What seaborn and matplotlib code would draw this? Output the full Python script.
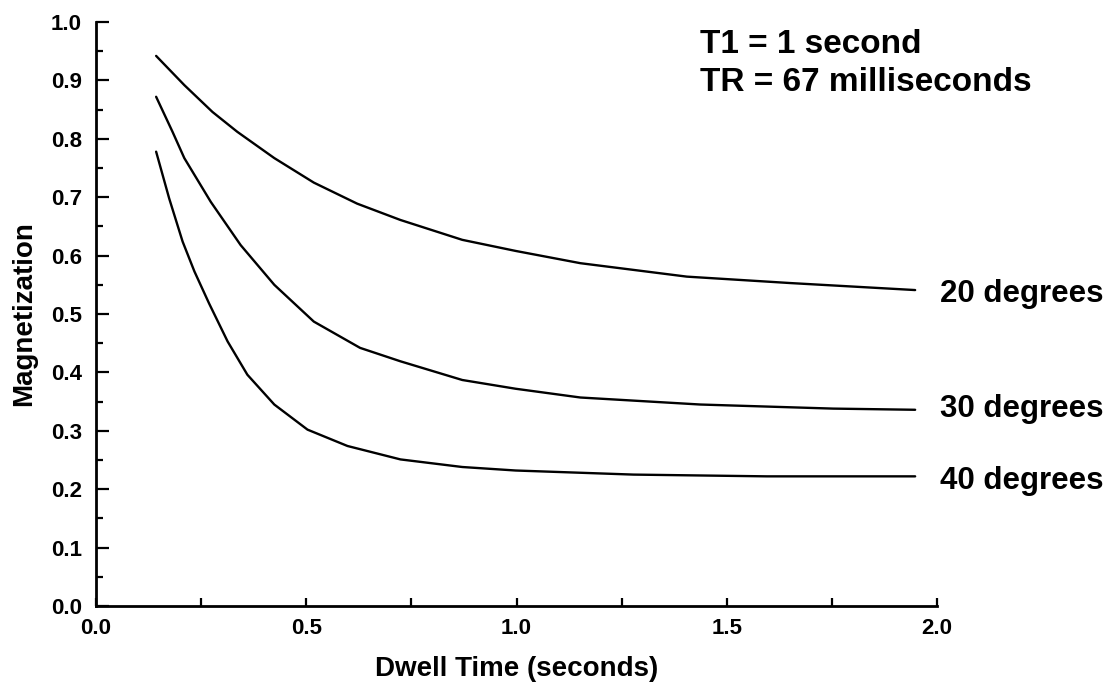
import numpy as np
import pandas as pd
import matplotlib
matplotlib.use("Agg")
import matplotlib.pyplot as plt
from matplotlib.ticker import MultipleLocator, FixedLocator
import seaborn as sns

# ---- data ----
x20 = [0.143, 0.21, 0.277, 0.336, 0.424, 0.518, 0.621, 0.724, 0.871, 0.998, 1.152, 1.405, 1.651, 1.948]
y20 = [0.942, 0.892, 0.846, 0.812, 0.767, 0.725, 0.689, 0.661, 0.627, 0.608, 0.587, 0.564, 0.553, 0.541]

x30 = [0.143, 0.182, 0.21, 0.273, 0.344, 0.424, 0.518, 0.628, 0.724, 0.871, 0.998, 1.152, 1.437, 1.753, 1.948]
y30 = [0.872, 0.812, 0.767, 0.692, 0.618, 0.550, 0.487, 0.442, 0.419, 0.387, 0.372, 0.357, 0.345, 0.338, 0.336]

x40 = [0.143, 0.174, 0.206, 0.234, 0.269, 0.313, 0.360, 0.424, 0.503, 0.598, 0.724, 0.871, 0.998, 1.278, 1.595, 1.948]
y40 = [0.778, 0.698, 0.624, 0.573, 0.518, 0.453, 0.396, 0.345, 0.302, 0.274, 0.251, 0.238, 0.232, 0.225, 0.222, 0.222]

series_labels = ["20 degrees", "30 degrees", "40 degrees"]
label_y = [0.535, 0.337, 0.214]

x_ticks = [0.0, 0.5, 1.0, 1.5, 2.0]
x_ticklabels = ["0.0", "0.5", "1.0", "1.5", "2.0"]
y_ticks = [0.0, 0.1, 0.2, 0.3, 0.4, 0.5, 0.6, 0.7, 0.8, 0.9, 1.0]
y_ticklabels = ["0.0", "0.1", "0.2", "0.3", "0.4", "0.5", "0.6", "0.7", "0.8", "0.9", "1.0"]

annot_lines = ["T1 = 1 second", "TR = 67 milliseconds"]

# ---- build table ----
frames = []
for lab, xs, ys in zip(series_labels, [x20, x30, x40], [y20, y30, y40]):
    frames.append(pd.DataFrame({"dwell": xs, "mag": ys, "angle": lab}))
df = pd.concat(frames, ignore_index=True)

sns.set_style("ticks")
plt.rcParams["font.family"] = ["Liberation Sans", "DejaVu Sans"]
plt.rcParams["font.weight"] = "bold"
plt.rcParams["axes.labelweight"] = "bold"
plt.rcParams["text.color"] = "black"
plt.rcParams["axes.labelcolor"] = "black"
plt.rcParams["xtick.color"] = "black"
plt.rcParams["ytick.color"] = "black"

fig = plt.figure(figsize=(11.11, 6.88), dpi=100)
ax = fig.add_axes([0.0864, 0.1192, 0.7570, 0.8488])

sns.lineplot(data=df, x="dwell", y="mag", hue="angle",
             palette=["black", "black", "black"], linewidth=1.7,
             legend=False, ax=ax, sort=False, estimator=None)

ax.set_xlim(0, 2.0)
ax.set_ylim(0, 1.0)
sns.despine(ax=ax)
for side in ["left", "bottom"]:
    ax.spines[side].set_linewidth(2.0)
    ax.spines[side].set_color("black")

ax.xaxis.set_major_locator(FixedLocator(x_ticks))
ax.set_xticklabels(x_ticklabels, fontweight="bold")
ax.xaxis.set_minor_locator(MultipleLocator(0.25))
ax.yaxis.set_major_locator(FixedLocator(y_ticks))
ax.set_yticklabels(y_ticklabels, fontweight="bold")
ax.yaxis.set_minor_locator(MultipleLocator(0.05))

ax.tick_params(axis="x", which="both", direction="in", length=6, width=1.6,
               color="black", labelcolor="black", labelsize=16, pad=9)
ax.tick_params(axis="y", which="major", direction="in", length=9, width=1.6,
               color="black", labelcolor="black", labelsize=16, pad=10)
ax.tick_params(axis="y", which="minor", direction="in", length=5, width=1.6,
               color="black")

ax.set_xlabel("Dwell Time (seconds)", fontsize=20, labelpad=12, color="black",
              fontweight="bold")
ax.set_ylabel("Magnetization", fontsize=20, labelpad=10, color="black",
              fontweight="bold")

for lab, yy in zip(series_labels, label_y):
    ax.text(2.007, yy, lab, fontsize=22.5, va="center", ha="left",
            clip_on=False, color="black", fontweight="bold")

ax.text(1.437, 0.961, annot_lines[0], fontsize=24, va="center", ha="left",
        color="black", fontweight="bold")
ax.text(1.437, 0.897, annot_lines[1], fontsize=24, va="center", ha="left",
        color="black", fontweight="bold")

fig.savefig("out.png", dpi=100)
